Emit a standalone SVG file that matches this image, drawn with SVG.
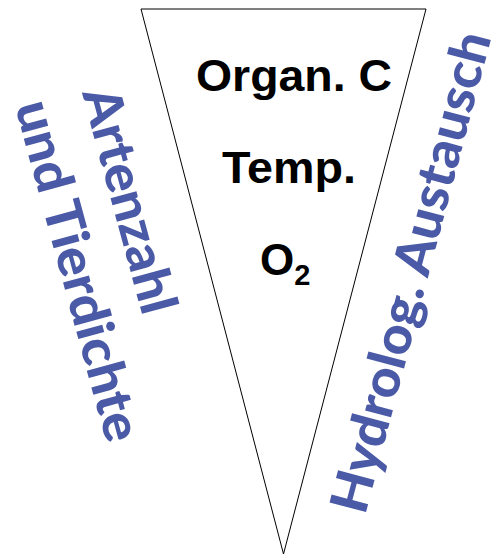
<svg xmlns="http://www.w3.org/2000/svg" width="495" height="555" viewBox="0 0 495 555">
  <style>
    .blk { font-family: "Liberation Sans", Arial, sans-serif; font-weight: 700; fill: #000000; }
    .blu { font-family: Lato, "Open Sans", sans-serif; font-weight: 900; fill: #4a5aa6; font-size: 52px; }
  </style>
  <rect x="0" y="0" width="495" height="555" fill="#ffffff"/>
  <g id="wedge">
    <polygon points="141,9 426,9 283.5,554" fill="#ffffff" stroke="#000000" stroke-width="1"/>
  </g>
  <g id="label-organ-c">
    <text class="blk" x="196" y="91" font-size="44" textLength="196" lengthAdjust="spacingAndGlyphs">Organ. C</text>
  </g>
  <g id="label-temp">
    <text class="blk" x="222" y="183" font-size="44" textLength="134" lengthAdjust="spacingAndGlyphs">Temp.</text>
  </g>
  <g id="label-o2">
    <text class="blk" x="260" y="275" font-size="44">O<tspan font-size="29" dy="10">2</tspan></text>
  </g>
  <g id="label-artenzahl">
    <text class="blu" transform="translate(82,93) rotate(74.8)" textLength="232" lengthAdjust="spacingAndGlyphs">Artenzahl</text>
    <text class="blu" transform="translate(15,106) rotate(74.8)" textLength="351" lengthAdjust="spacingAndGlyphs">und Tierdichte</text>
  </g>
  <g id="label-hydrolog">
    <text class="blu" transform="translate(365,516) rotate(-75.2)" textLength="495" lengthAdjust="spacingAndGlyphs">Hydrolog. Austausch</text>
  </g>
</svg>
